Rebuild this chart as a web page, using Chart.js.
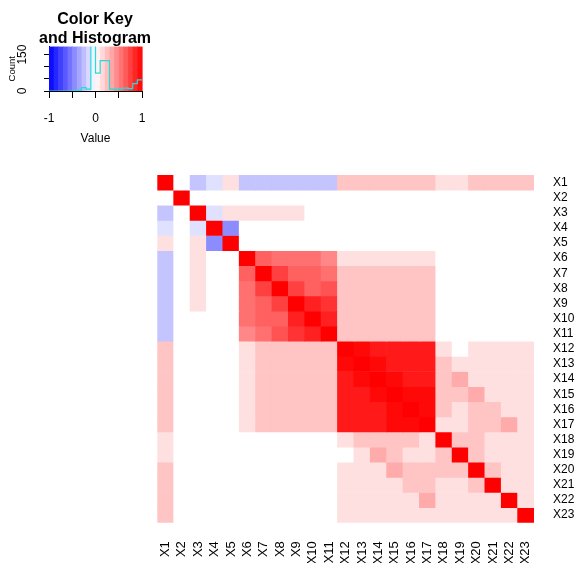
<!DOCTYPE html>
<html>
<head>
<meta charset="utf-8">
<script src="https://cdn.jsdelivr.net/npm/chart.js@4.4.0/dist/chart.umd.min.js"></script>
<style>
  html, body { margin: 0; padding: 0; background: #fff; width: 578px; height: 563px; overflow: hidden; }
  #heat, #key { position: absolute; left: 0; top: 0; }
</style>
</head>
<body>
<canvas id="heat" width="578" height="580"></canvas>
<canvas id="key" width="190" height="150"></canvas>
<script>
// variable names (rows top to bottom, columns left to right)
const varNames = ['X1', 'X2', 'X3', 'X4', 'X5', 'X6', 'X7', 'X8', 'X9', 'X10', 'X11', 'X12',
    'X13', 'X14', 'X15', 'X16', 'X17', 'X18', 'X19', 'X20', 'X21', 'X22', 'X23'];

// shorthand for the pale shades
const B = -0.23, b = -0.12, D = -0.45, V = 0.12, L = 0.23, M = 0.33;

// correlation matrix, row by row
const corrMatrix = [
    [1, 0, B, b, V, B, B, B, B, B, B, L, L, L, L, L, L, V, V, L, L, L, L],
    [0, 1, 0, 0, 0, 0, 0, 0, 0, 0, 0, 0, 0, 0, 0, 0, 0, 0, 0, 0, 0, 0, 0],
    [B, 0, 1, b, V, V, V, V, V, 0, 0, 0, 0, 0, 0, 0, 0, 0, 0, 0, 0, 0, 0],
    [b, 0, b, 1, D, 0, 0, 0, 0, 0, 0, 0, 0, 0, 0, 0, 0, 0, 0, 0, 0, 0, 0],
    [V, 0, V, D, 1, 0, 0, 0, 0, 0, 0, 0, 0, 0, 0, 0, 0, 0, 0, 0, 0, 0, 0],
    [B, 0, V, 0, 0, 1, .62, .56, .56, .56, .47, V, V, V, V, V, V, 0, 0, 0, 0, 0, 0],
    [B, 0, V, 0, 0, .62, 1, .75, .62, .62, .56, L, L, L, L, L, L, 0, 0, 0, 0, 0, 0],
    [B, 0, V, 0, 0, .56, .75, 1, .75, .62, .68, L, L, L, L, L, L, 0, 0, 0, 0, 0, 0],
    [B, 0, V, 0, 0, .56, .62, .75, 1, .87, .8, L, L, L, L, L, L, 0, 0, 0, 0, 0, 0],
    [B, 0, 0, 0, 0, .56, .62, .62, .87, 1, .87, L, L, L, L, L, L, 0, 0, 0, 0, 0, 0],
    [B, 0, 0, 0, 0, .47, .56, .68, .8, .87, 1, L, L, L, L, L, L, 0, 0, 0, 0, 0, 0],
    [L, 0, 0, 0, 0, V, L, L, L, L, L, 1, .97, .9, .9, .9, .9, V, 0, V, V, V, V],
    [L, 0, 0, 0, 0, V, L, L, L, L, L, .97, 1, .97, .9, .9, .9, L, V, V, V, V, V],
    [L, 0, 0, 0, 0, V, L, L, L, L, L, .9, .97, 1, .97, .9, .9, L, M, V, V, V, V],
    [L, 0, 0, 0, 0, V, L, L, L, L, L, .9, .9, .97, 1, .97, .97, L, L, M, V, V, V],
    [L, 0, 0, 0, 0, V, L, L, L, L, L, .9, .9, .9, .97, 1, .97, L, V, L, L, V, V],
    [L, 0, 0, 0, 0, V, L, L, L, L, L, .9, .9, .9, .97, .97, 1, V, V, L, L, M, V],
    [V, 0, 0, 0, 0, 0, 0, 0, 0, 0, 0, V, L, L, L, L, V, 1, L, L, V, V, V],
    [V, 0, 0, 0, 0, 0, 0, 0, 0, 0, 0, 0, V, M, L, V, V, L, 1, L, V, V, V],
    [L, 0, 0, 0, 0, 0, 0, 0, 0, 0, 0, V, V, V, M, L, L, L, L, 1, L, V, V],
    [L, 0, 0, 0, 0, 0, 0, 0, 0, 0, 0, V, V, V, V, L, L, V, V, L, 1, V, V],
    [L, 0, 0, 0, 0, 0, 0, 0, 0, 0, 0, V, V, V, V, V, M, V, V, V, V, 1, V],
    [L, 0, 0, 0, 0, 0, 0, 0, 0, 0, 0, V, V, V, V, V, V, V, V, V, V, V, 1]
];

// colour key: bin edges, histogram counts per bin, axis ticks
const keyBreaks = [-1, -0.9, -0.8, -0.7, -0.6, -0.5, -0.4, -0.3, -0.2, -0.1, 0,
    0.1, 0.2, 0.3, 0.4, 0.5, 0.6, 0.7, 0.8, 0.9, 1];
const histCounts = [0, 0, 0, 0, 0, 2, 4, 14, 8, 190, 74, 125, 125, 8, 6, 10, 12, 10, 30, 46];
const keyXTicks = [-1, -0.5, 0, 0.5, 1];
const keyYTicks = [0, 50, 100, 150];

const FONT = 'Liberation Sans, Arial, sans-serif';

function cellColour(v) {
    if (v >= 0) {
        const c = Math.round(255 * (1 - v));
        return 'rgb(255,' + c + ',' + c + ')';
    }
    const c = Math.round(255 * (1 + v));
    return 'rgb(' + c + ',' + c + ',255)';
}

// main heatmap: one stacked bar dataset per row, each cell one unit tall
new Chart(document.getElementById('heat'), {
    type: 'bar',
    data: {
        labels: varNames,
        datasets: corrMatrix.map((row, i) => ({
            label: varNames[i],
            data: row.map(() => 1),
            backgroundColor: row.map(cellColour),
            borderWidth: 0,
            barPercentage: 1,
            categoryPercentage: 1
        }))
    },
    options: {
        responsive: false,
        animation: false,
        devicePixelRatio: 1,
        layout: { padding: { left: 157.3, top: 175, right: 0, bottom: 0 } },
        plugins: { legend: { display: false }, tooltip: { enabled: false } },
        scales: {
            x: {
                stacked: true,
                grid: { display: false, drawTicks: false },
                border: { display: false },
                ticks: {
                    autoSkip: false, minRotation: 90, maxRotation: 90, padding: 18.5,
                    color: '#000', font: { family: FONT, size: 13 }
                },
                afterFit: s => { s.height = 57.3; }
            },
            y: {
                stacked: true,
                position: 'right',
                reverse: true,
                min: 0,
                max: varNames.length,
                grid: { display: false, drawTicks: false },
                border: { display: false },
                afterBuildTicks: s => { s.ticks = varNames.map((n, i) => ({ value: i + 0.5 })); },
                ticks: {
                    autoSkip: false, padding: 19, color: '#000',
                    font: { family: FONT, size: 12 },
                    callback: v => varNames[Math.floor(v)]
                },
                afterFit: s => { s.width = 44; }
            }
        }
    }
});

// colour bands behind the histogram, placed through the x scale
const keyBands = {
    id: 'keyBands',
    beforeDatasetsDraw(chart) {
        const { ctx, chartArea, scales: { x } } = chart;
        for (let i = 0; i < keyBreaks.length - 1; i++) {
            const x0 = x.getPixelForValue(keyBreaks[i]);
            const x1 = x.getPixelForValue(keyBreaks[i + 1]);
            ctx.fillStyle = cellColour((keyBreaks[i] + keyBreaks[i + 1]) / 2);
            ctx.fillRect(x0, chartArea.top, x1 - x0 + 0.6, chartArea.bottom - chartArea.top);
        }
    }
};

const histPoints = keyBreaks.map((br, i) => ({ x: br, y: histCounts[Math.min(i, histCounts.length - 1)] }));

new Chart(document.getElementById('key'), {
    type: 'line',
    data: {
        datasets: [{
            data: histPoints,
            borderColor: '#22dddd',
            borderWidth: 1.2,
            pointRadius: 0,
            stepped: 'before',
            fill: false
        }]
    },
    options: {
        responsive: false,
        animation: false,
        devicePixelRatio: 1,
        layout: { padding: 0 },
        plugins: {
            legend: { display: false },
            tooltip: { enabled: false },
            title: {
                display: true,
                text: ['Color Key', 'and Histogram'],
                color: '#000',
                font: { family: FONT, size: 16, weight: 'bold', lineHeight: 1.19 },
                padding: { top: 10.5, bottom: -2 }
            }
        },
        scales: {
            x: {
                type: 'linear', min: -1, max: 1, z: 1,
                afterBuildTicks: s => { s.ticks = keyXTicks.map(v => ({ value: v })); },
                ticks: {
                    padding: 13, color: '#000', font: { family: FONT, size: 12 },
                    callback: v => Number.isInteger(v) ? String(v) : ''
                },
                grid: { drawOnChartArea: false, tickLength: 7, color: '#000' },
                border: { color: '#000' },
                title: { display: true, text: 'Value', color: '#000', font: { family: FONT, size: 12 }, padding: { top: 0, bottom: 4 } },
                afterFit: s => { s.height = 59; }
            },
            y: {
                min: 0, max: 183, z: 1,
                afterBuildTicks: s => { s.ticks = keyYTicks.map(v => ({ value: v })); },
                ticks: {
                    autoSkip: false,
                    minRotation: 90, maxRotation: 90, crossAlign: 'center', padding: 11,
                    color: '#000', font: { family: FONT, size: 12 },
                    callback: v => (v === 0 || v === 150) ? String(v) : ''
                },
                grid: { drawOnChartArea: false, tickLength: 5, color: '#000' },
                border: { color: '#000' },
                title: { display: true, text: 'Count', color: '#000', font: { family: FONT, size: 9.5 }, padding: { top: 6.5, bottom: 0 } },
                afterFit: s => { s.width = 49; }
            },
            // empty right-hand strip so the title centres over the whole key panel
            pad: {
                type: 'linear', position: 'right', display: true,
                grid: { display: false, drawTicks: false },
                border: { display: false },
                ticks: { display: false },
                afterFit: s => { s.width = 48; }
            }
        }
    },
    plugins: [keyBands]
});
</script>
</body>
</html>
